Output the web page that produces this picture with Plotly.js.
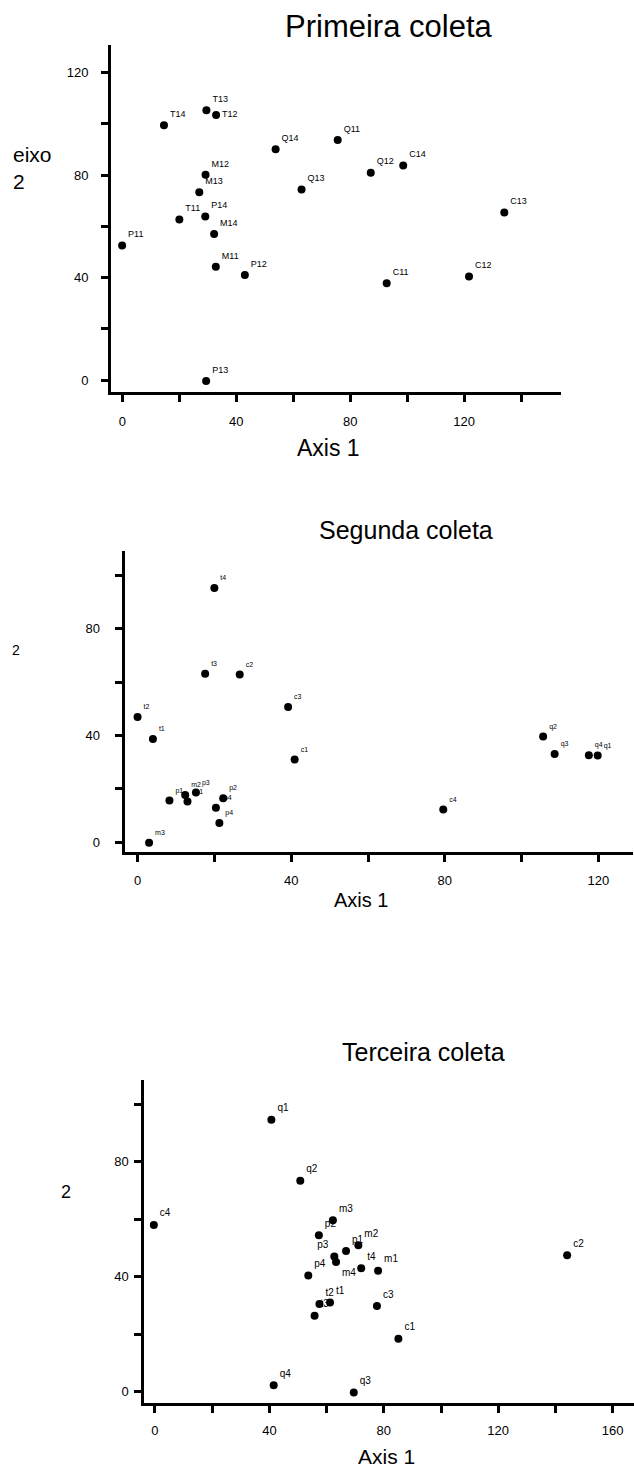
<!DOCTYPE html>
<html>
<head>
<meta charset="utf-8">
<script src="https://cdn.plot.ly/plotly-3.0.1.min.js"></script>
<style>html,body{margin:0;padding:0;background:#fff;}#chart{width:634px;height:1471px;}</style>
</head>
<body>
<div id="chart"></div>
<script>
// ---------- data ----------
const p1Labels = ['T11','T12','T13','T14','M11','M12','M13','M14','P11','P12','P13','P14','Q11','Q12','Q13','Q14','C11','C12','C13','C14'];
const p1X = [20.0, 32.9, 29.5, 14.6, 32.8, 29.2, 27.0, 32.2, -0.1, 43.0, 29.4, 29.1, 75.6, 87.2, 62.9, 53.8, 92.8, 121.7, 134.1, 98.6];
const p1Y = [62.7, 103.4, 105.3, 99.4, 44.2, 80.1, 73.3, 57.0, 52.5, 41.0, -0.3, 63.8, 93.7, 80.9, 74.4, 90.1, 37.8, 40.4, 65.4, 83.7];

const p2Labels = ['t1','t2','t3','t4','c1','c2','c3','c4','q1','q2','q3','q4','p1','p2','p3','p4','m1','m2','m3','m4'];
const p2X = [4.0, 0.0, 17.6, 20.0, 40.9, 26.6, 39.2, 79.6, 119.8, 105.6, 108.6, 117.5, 8.3, 22.3, 15.2, 21.3, 13.0, 12.4, 3.0, 20.4];
const p2Y = [38.7, 46.9, 63.1, 95.2, 31.0, 62.8, 50.7, 12.3, 32.5, 39.6, 33.1, 32.6, 15.6, 16.5, 18.6, 7.2, 15.3, 17.7, -0.2, 12.9];

const p3Labels = ['t1','t2','t3','t4','c1','c2','c3','c4','q1','q2','q3','q4','p1','p2','p3','p4','m1','m2','m3','m4'];
const p3X = [61.2, 57.5, 55.8, 72.1, 85.1, 144.1, 77.6, -0.4, 40.7, 50.8, 69.5, 41.5, 66.8, 57.3, 62.7, 53.6, 78.0, 71.1, 62.2, 63.3];
const p3Y = [31.0, 30.5, 26.4, 42.9, 18.4, 47.5, 29.8, 58.0, 94.6, 73.4, -0.3, 2.2, 48.9, 54.4, 47.0, 40.4, 42.1, 50.9, 59.6, 45.1];

const titles = ['Primeira coleta', 'Segunda coleta', 'Terceira coleta'];
const xTitle = 'Axis 1';
const yTitle1 = 'eixo<br>2';
const yTitleShort = '2';

const x1TickVals = [0,20,40,60,80,100,120,140];
const x1TickText = ['0','','40','','80','','120',''];
const y1TickVals = [0,20,40,60,80,100,120];
const y1TickText = ['0','','40','','80','','120'];
const x2TickVals = [0,20,40,60,80,100,120];
const x2TickText = ['0','','40','','80','','120'];
const y2TickVals = [0,20,40,60,80,100];
const y2TickText = ['0','','40','','80',''];
const x3TickVals = [0,20,40,60,80,100,120,140,160];
const x3TickText = ['0','','40','','80','','120','','160'];
const y3TickVals = [0,20,40,60,80,100];
const y3TickText = ['0','','40','','80',''];

// ---------- layout helpers ----------
const W = 634, H = 1471;
const FONT = 'Liberation Sans, Arial, Helvetica, sans-serif';
const px = v => v / W;
const py = v => 1 - v / H;

// label placement: default above-right, a few nudged to limit collisions
function positions(labels, special) {
  return labels.map(l => special[l] || 'top right');
}

function trace(x, y, t, ax, ay, fs, special) {
  return {
    type: 'scatter', mode: 'markers+text', x: x, y: y, text: t,
    xaxis: ax, yaxis: ay, textposition: positions(t, special), cliponaxis: false,
    marker: {color: 'black', size: 8},
    textfont: {family: FONT, size: fs, color: '#000000'},
    hoverinfo: 'skip', showlegend: false
  };
}

function axis(domain, range, tv, tt, anchor, standoff) {
  return {
    domain: domain, range: range, anchor: anchor,
    showline: true, linecolor: 'black', linewidth: 3,
    ticks: 'outside', ticklen: 7, tickwidth: 3, tickcolor: 'black',
    showgrid: false, zeroline: false,
    tickmode: 'array', tickvals: tv, ticktext: tt,
    tickfont: {family: FONT, size: 13, color: 'black'},
    ticklabelstandoff: standoff, fixedrange: true
  };
}

function ann(text, x, y, size, xanchor) {
  return {text: text, x: px(x), y: py(y), xref: 'paper', yref: 'paper',
    xanchor: xanchor || 'center', yanchor: 'middle', align: 'left', showarrow: false,
    font: {family: FONT, size: size, color: 'black'}};
}

const data = [
  trace(p1X, p1Y, p1Labels, 'x', 'y', 9, {T12: 'middle right'}),
  trace(p2X, p2Y, p2Labels, 'x2', 'y2', 7, {}),
  trace(p3X, p3Y, p3Labels, 'x3', 'y3', 10, {p3: 'top left', m4: 'bottom right'})
];

const layout = {
  width: W, height: H, margin: {l: 0, r: 0, t: 0, b: 0},
  paper_bgcolor: 'white', plot_bgcolor: 'white', showlegend: false,
  xaxis:  axis([px(111), px(561)], [-4, 154], x1TickVals, x1TickText, 'y', 8),
  yaxis:  axis([py(392), py(45)], [-4.6, 130.7], y1TickVals, y1TickText, 'x', 10),
  xaxis2: axis([px(124.5), px(633)], [-3.4, 129], x2TickVals, x2TickText, 'y2', 8),
  yaxis2: axis([py(851.6), py(551)], [-3.5, 109.1], y2TickVals, y2TickText, 'x2', 12),
  xaxis3: axis([px(144.4), px(633.5)], [-3.7, 167.3], x3TickVals, x3TickText, 'y3', 7),
  yaxis3: axis([py(1402.6), py(1079.5)], [-3.8, 108.6], y3TickVals, y3TickText, 'x3', 3),
  annotations: [
    ann(titles[0], 388, 27, 31),
    ann(titles[1], 406, 530, 25),
    ann(titles[2], 423, 1052, 25),
    ann(xTitle, 328.5, 448, 23),
    ann(xTitle, 361, 900, 20),
    ann(xTitle, 386, 1456, 21),
    ann(yTitle1, 11, 168, 21, 'left'),
    ann(yTitleShort, 16, 650, 14),
    ann(yTitleShort, 66, 1192, 18)
  ]
};

Plotly.newPlot('chart', data, layout, {staticPlot: true, displayModeBar: false});
</script>
</body>
</html>
